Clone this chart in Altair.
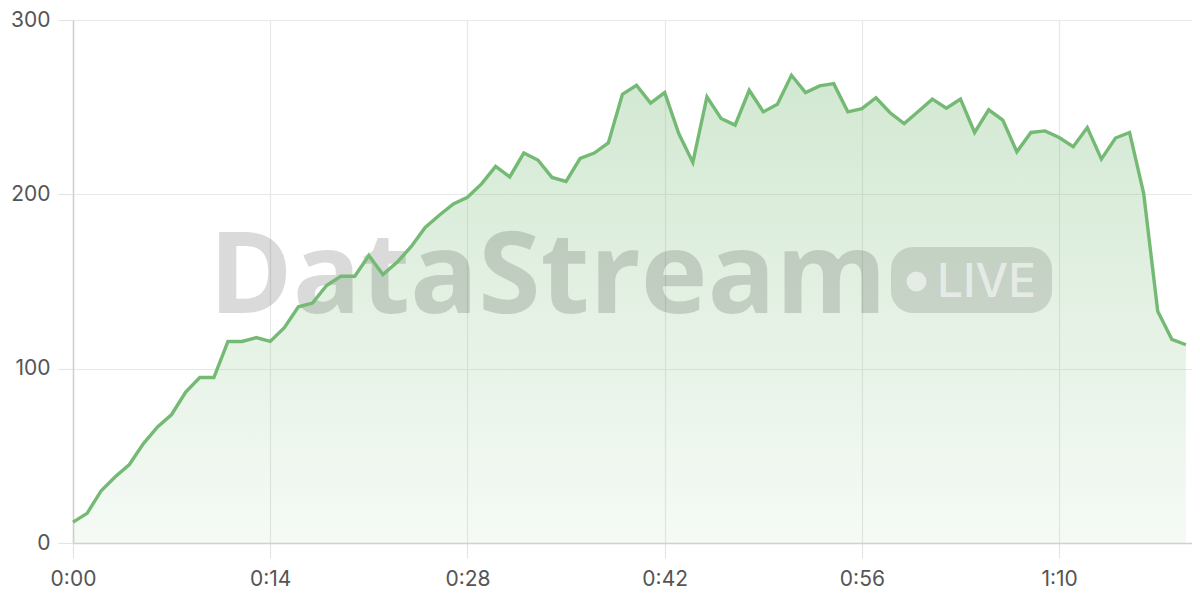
import altair as alt
import pandas as pd

seconds = list(range(80))
values = [12, 17, 30, 38, 45, 57, 66.6, 73.7, 86.6, 94.9,
          94.9, 115.6, 115.6, 117.8, 115.6, 123.5, 135.5, 137.6, 147.7, 153,
          153, 164.9, 154, 161, 170, 181, 188, 194.5, 198.3, 206,
          216, 210, 223.7, 219.7, 209.7, 207.4, 220.6, 223.7, 229.5, 257.4,
          262.6, 252.3, 258.4, 234.9, 218.3, 255.9, 243.5, 239.7, 259.7, 247.3,
          251.7, 268.3, 258.4, 262.2, 263.5, 247.3, 249.2, 255.4, 246.8, 240.6,
          247.5, 254.6, 249.4, 254.6, 235.5, 248.5, 242.6, 224.4, 235.5, 236.4,
          232.6, 227.3, 238.3, 220.2, 232.3, 235.5, 200.6, 133, 116.8, 113.7]
x_ticks = [0, 14, 28, 42, 56, 70]
y_ticks = [0, 100, 200, 300]
watermark_text = "DataStream"
badge_text = "LIVE"

df = pd.DataFrame({"t": seconds, "v": values})
one = pd.DataFrame({"k": [0]})

GREEN = "#74ba74"
FONT = "Inter"

x_enc = alt.X("t:Q", scale=alt.Scale(domain=[0, 80], nice=False),
              axis=alt.Axis(values=x_ticks, title=None, labelFlush=False,
                            labelExpr="floor(datum.value/60) + ':' + (datum.value % 60 < 10 ? '0' : '') + (datum.value % 60)"))
y_enc = alt.Y("v:Q", scale=alt.Scale(domain=[0, 300], nice=False),
              axis=alt.Axis(values=y_ticks, title=None, labelFlush=False))

area = alt.Chart(df).mark_area(
    color=alt.Gradient(
        gradient="linear",
        stops=[alt.GradientStop(color="rgba(116,184,116,0.07)", offset=0),
               alt.GradientStop(color="rgba(116,184,116,0.32)", offset=1)],
        x1=1, x2=1, y1=1, y2=0),
    interpolate="linear",
).encode(x=x_enc, y=y_enc)

wm = alt.Chart(one).mark_text(
    text=watermark_text, font="Open Sans", fontWeight="bold", fontSize=113,
    align="left", baseline="alphabetic", color="#000000", opacity=0.14,
).encode(x=alt.value(136), y=alt.value(293))

badge = alt.Chart(one).mark_rect(
    color="#000000", opacity=0.12, cornerRadius=22,
).encode(x=alt.value(818), x2=alt.value(979), y=alt.value(227), y2=alt.value(293))

dot = alt.Chart(one).mark_point(
    shape="circle", filled=True, size=400, color="#ffffff", opacity=0.55,
).encode(x=alt.value(843.5), y=alt.value(261.5))

live = alt.Chart(one).mark_text(
    text=badge_text, font=FONT, fontWeight=500, fontSize=46,
    align="left", baseline="alphabetic", color="#ffffff", opacity=0.55,
).encode(x=alt.value(864), y=alt.value(277))

line = alt.Chart(df).mark_line(color=GREEN, strokeWidth=3.4, interpolate="linear").encode(
    x=x_enc, y=y_enc)

chart = alt.layer(area, wm, badge, dot, live, line).properties(
    width=1127, height=523,
    autosize=alt.AutoSizeParams(type="none"),
    padding={"left": 65, "top": 12, "right": -8, "bottom": 49},
).configure_view(stroke=None).configure_axis(
    labelFont=FONT, labelFontSize=21, labelColor="#555555",
    gridColor="#e8e8e8", gridWidth=1.2,
    domainColor="#d0d0d0", domainWidth=1.5,
    tickColor="#e4e4e4", tickSize=15, tickWidth=1.2,
).configure_axisX(labelPadding=10).configure_axisY(labelPadding=8)

chart.save("out.html", embed_options={"renderer": "svg", "actions": False})
